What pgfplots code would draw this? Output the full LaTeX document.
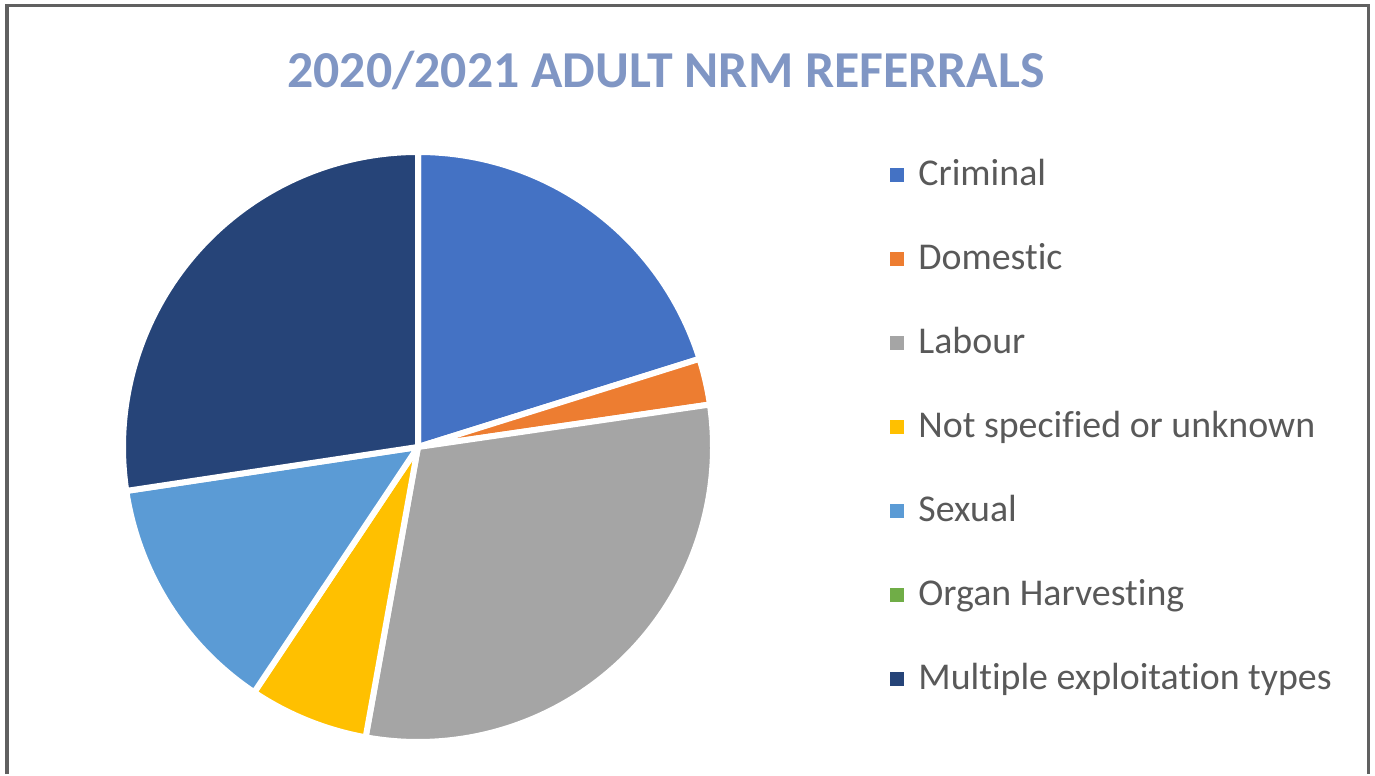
\documentclass[border=0pt]{standalone}
\usepackage{pgfplots}
\usepackage{pgfplotstable}
\pgfplotsset{compat=1.18}
\usepackage{fontspec}
\setmainfont[Ligatures=NoCommon]{Carlito}
\definecolor{cCrim}{HTML}{4472C4}
\definecolor{cDom}{HTML}{ED7D31}
\definecolor{cLab}{HTML}{A5A5A5}
\definecolor{cNot}{HTML}{FFC000}
\definecolor{cSex}{HTML}{5B9BD5}
\definecolor{cOrg}{HTML}{70AD47}
\definecolor{cMul}{HTML}{264478}
\definecolor{cTitle}{RGB}{128,150,196}
\definecolor{cText}{HTML}{595959}
\definecolor{cFrame}{HTML}{606060}
% share of adult NRM referrals (%)
\pgfplotstableread{
label value
Criminal 20.17
Domestic 2.53
Labour 30.14
NotSpecified 6.53
Sexual 13.25
Organ 0
Multiple 27.38
}\pietable
\pgfplotsset{sq/.style={legend image code/.code={\fill[#1, draw=none] (0bp,-3.5bp) rectangle (7bp,3.5bp); \path[draw=none, fill=none] (0bp,0bp) rectangle (14bp,0.1bp);}}}
\begin{document}
\begin{tikzpicture}
\pgfplotstablegetelem{0}{value}\of\pietable \let\vA\pgfplotsretval
\pgfplotstablegetelem{1}{value}\of\pietable \let\vB\pgfplotsretval
\pgfplotstablegetelem{2}{value}\of\pietable \let\vC\pgfplotsretval
\pgfplotstablegetelem{3}{value}\of\pietable \let\vD\pgfplotsretval
\pgfplotstablegetelem{4}{value}\of\pietable \let\vE\pgfplotsretval
\pgfplotstablegetelem{6}{value}\of\pietable \let\vG\pgfplotsretval
\pgfmathsetmacro\aA{90-3.6*\vA}
\pgfmathsetmacro\aB{\aA-3.6*\vB}
\pgfmathsetmacro\aC{\aB-3.6*\vC}
\pgfmathsetmacro\aD{\aC-3.6*\vD}
\pgfmathsetmacro\aE{\aD-3.6*\vE}
\pgfmathsetmacro\aG{\aE-3.6*\vG}
\def\R{147.5bp}
\begin{axis}[
  x=0.5bp, y=0.5bp,
  xmin=0, xmax=1375, ymin=0, ymax=774,
  hide axis, clip=false,
  legend style={at={(axis cs:890,617)}, anchor=north west, draw=none, fill=none,
    inner xsep=0pt, inner ysep=0pt, row sep=24bp,
    font=\fontsize{19}{19}\selectfont, text=cText,
    nodes={inner sep=0pt, text height=14bp, text depth=4bp}},
  legend cell align=left,
]
\path (axis cs:0,0) rectangle (axis cs:1375,774);
\draw[cFrame, line width=1.5bp] (axis cs:7,0) -- (axis cs:7,768.5) -- (axis cs:1368,768.5) -- (axis cs:1368,0);
\node[text=cTitle, font=\fontsize{26}{26}\selectfont\bfseries] at (axis cs:666,703) {2020/2021 ADULT NRM REFERRALS};
\fill[cCrim, draw=white, line width=3bp, line join=round] (axis cs:418,327) -- ++(90:\R) arc[start angle=90, end angle=\aA, radius=\R] -- cycle;
\fill[cDom, draw=white, line width=3bp, line join=round] (axis cs:418,327) -- ++(\aA:\R) arc[start angle=\aA, end angle=\aB, radius=\R] -- cycle;
\fill[cLab, draw=white, line width=3bp, line join=round] (axis cs:418,327) -- ++(\aB:\R) arc[start angle=\aB, end angle=\aC, radius=\R] -- cycle;
\fill[cNot, draw=white, line width=3bp, line join=round] (axis cs:418,327) -- ++(\aC:\R) arc[start angle=\aC, end angle=\aD, radius=\R] -- cycle;
\fill[cSex, draw=white, line width=3bp, line join=round] (axis cs:418,327) -- ++(\aD:\R) arc[start angle=\aD, end angle=\aE, radius=\R] -- cycle;
\fill[cMul, draw=white, line width=3bp, line join=round] (axis cs:418,327) -- ++(\aE:\R) arc[start angle=\aE, end angle=\aG, radius=\R] -- cycle;
\addlegendimage{sq=cCrim}
\addlegendentry{Criminal}
\addlegendimage{sq=cDom}
\addlegendentry{Domestic}
\addlegendimage{sq=cLab}
\addlegendentry{Labour}
\addlegendimage{sq=cNot}
\addlegendentry{Not specified or unknown}
\addlegendimage{sq=cSex}
\addlegendentry{Sexual}
\addlegendimage{sq=cOrg}
\addlegendentry{Organ Harvesting}
\addlegendimage{sq=cMul}
\addlegendentry{Multiple exploitation types}
\end{axis}
\end{tikzpicture}
\end{document}
